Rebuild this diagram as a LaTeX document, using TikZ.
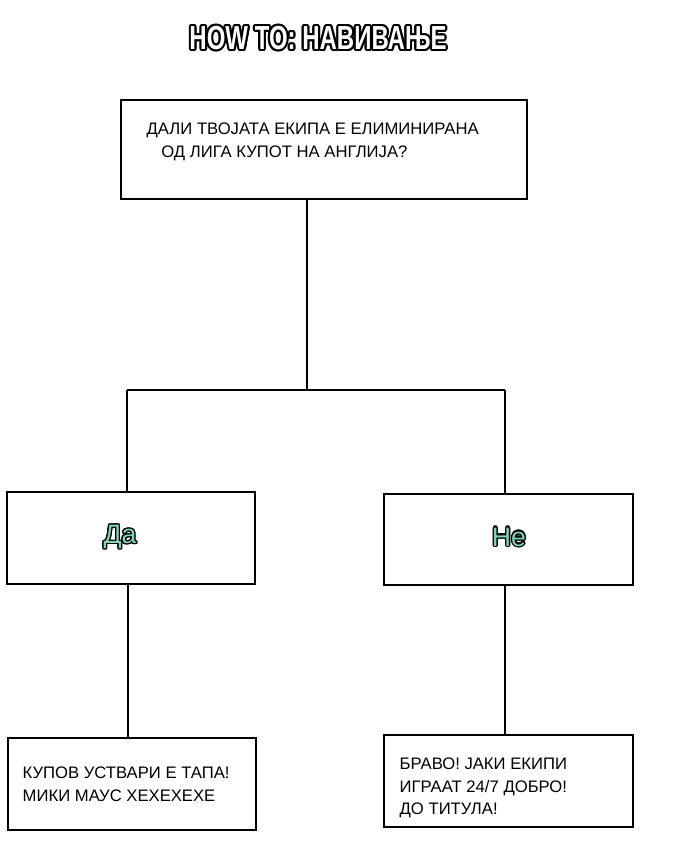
\documentclass[tikz,border=0pt]{standalone}
\usepackage{fontspec}
\setmainfont{Liberation Sans}
\usetikzlibrary{calc}
\definecolor{dagreen}{HTML}{7FD3B0}
\tikzset{box/.style={draw,line width=0.8pt,inner sep=0pt},
 conn/.style={line width=0.8pt},
 body/.style={font=\fontsize{12.5}{17}\selectfont,align=left,anchor=west}}
\begin{document}
\begin{tikzpicture}[x=0.75pt,y=-0.75pt]
\useasboundingbox[fill=white] (0,0) rectangle (692,860);
% title with outline
\foreach \a in {0,30,...,330}{
 \node[font=\bfseries\fontsize{25}{25}\selectfont, xscale=0.72, black] at ($(318,38)+(\a:2.2)$) {HOW TO: НАВИВАЊЕ};
}
\node[font=\bfseries\fontsize{25}{25}\selectfont, xscale=0.72, white] (title) at (318,38) {HOW TO: НАВИВАЊЕ};
% boxes
\node[box,minimum width=304.5pt,minimum height=74.25pt] (q) at (324,149.5) {};
\node[body,anchor=north west] (qt) at (142,118) {ДАЛИ ТВОЈАТА ЕКИПА Е ЕЛИМИНИРАНА\\\hspace*{11pt}ОД ЛИГА КУПОТ НА АНГЛИЈА?};
\node[box,minimum width=186pt,minimum height=69pt] (da) at (131,538) {};
\node[box,minimum width=186.75pt,minimum height=68.25pt] (ne) at (508.5,539.5) {};
\node[box,minimum width=186pt,minimum height=69pt] (a1) at (132,784) {};
\node[box,minimum width=186.75pt,minimum height=69pt] (a2) at (508.5,781) {};
\foreach \x/\y/\t in {120/537/Да,509/537/Не}{
 \foreach \a in {0,30,...,330}{
  \node[font=\fontsize{20}{20}\selectfont, black] at ($(\x,\y)+(\a:1.3)$) {\t};
 }
 \node[font=\fontsize{20}{20}\selectfont, dagreen] at (\x,\y) {\t};
}
\node[body] (t1) at (18,784) {КУПОВ УСТВАРИ Е ТАПА!\\МИКИ МАУС ХЕХЕХЕХЕ};
\node[body,anchor=north west] (t2) at (395,753) {БРАВО! ЈАКИ ЕКИПИ\\ИГРААТ 24/7 ДОБРО!\\ДО ТИТУЛА!};
% connectors
\coordinate (j) at (307,390);
\coordinate (jl) at (127,390);
\coordinate (jr) at (505,390);
\coordinate (d1) at (128,584);
\coordinate (n1) at (505,585);
\draw[conn] (q.south -| j) -- (j);
\draw[conn] (jl) -- (jr);
\draw[conn] (jl) -- (jl |- da.north);
\draw[conn] (jr) -- (jr |- ne.north);
\draw[conn] (d1) -- (d1 |- a1.north);
\draw[conn] (n1) -- (n1 |- a2.north);
\end{tikzpicture}
\end{document}
